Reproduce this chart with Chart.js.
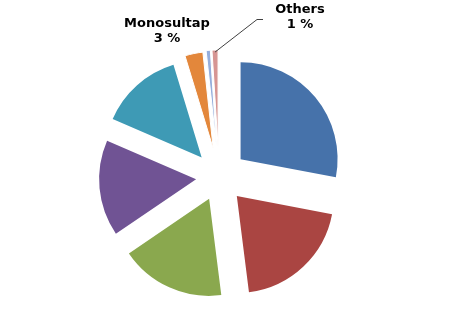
<!DOCTYPE html>
<html lang="en">
<head>
    <meta charset="UTF-8">
    <title>Pie</title>
    <script src="https://cdn.jsdelivr.net/npm/chart.js"></script>
    <style>
        html, body { margin: 0; padding: 0; background: white; }
        #wrap { width: 467px; height: 312px; }
    </style>
</head>
<body>
    <div id="wrap"><canvas id="pieChart"></canvas></div>

    <script>
        // values (percent)
        var categories = ['Slice 1', 'Slice 2', 'Slice 3', 'Slice 4', 'Slice 5', 'Monosultap', 'Slice 7', 'Others'];
        var shares = [28, 20, 17.5, 16, 13.8, 3, 0.7, 1];

        var colors = ['#4672AA', '#AA4542', '#8AA84E', '#705394', '#3E9AB5', '#E3873B', '#95AEDC', '#D69593'];
        var R = 97;
        // explosion in px, chart.js moves arcs by offset / 4
        var explodePx = [28, 26, 24, 23, 26, 29, 30, 30];

        // chart.js grows and narrows thin exploded arcs, undo that so
        // every slice keeps radius R and its real angle
        var keepShape = {
            id: 'keepShape',
            afterDatasetsUpdate: function(chart) {
                chart.getDatasetMeta(0).data.forEach(function(arc) {
                    arc._s0 = arc.startAngle;
                    arc._e0 = arc.endAngle;
                });
            },
            beforeDatasetsDraw: function(chart) {
                chart.getDatasetMeta(0).data.forEach(function(arc) {
                    var off = (arc.options.offset || 0) / 4;
                    var fix = 1 - Math.sin(Math.min(Math.PI, arc.circumference));
                    var ro = off * fix;
                    var d = ro / (Math.PI * R);
                    arc.outerRadius = R - ro;
                    arc.startAngle = arc._s0 - d / 2;
                    arc.endAngle = arc._e0 + d / 2;
                });
            }
        };

        var sliceLabels = {
            id: 'sliceLabels',
            afterDatasetsDraw: function(chart) {
                var ctx = chart.ctx;
                var arcs = chart.getDatasetMeta(0).data;
                ctx.save();
                ctx.fillStyle = '#000';
                ctx.font = 'bold 13px "DejaVu Sans", Verdana, sans-serif';
                ctx.textAlign = 'center';
                ctx.textBaseline = 'alphabetic';

                var m = categories.indexOf('Monosultap');
                ctx.fillText(categories[m], 167, 27);
                ctx.fillText(shares[m] + ' %', 167, 42);

                var o = categories.indexOf('Others');
                ctx.fillText(categories[o], 300, 13);
                ctx.fillText(Math.round(shares[o]) + ' %', 300, 28);

                // leader line from the Others slice
                var a = arcs[o];
                var mid = (a._s0 + a._e0) / 2;
                var dist = explodePx[o] + R - 2;
                var px = a.x + Math.cos(mid) * dist;
                var py = a.y + Math.sin(mid) * dist;
                ctx.strokeStyle = '#404040';
                ctx.lineWidth = 1;
                ctx.beginPath();
                ctx.moveTo(px, py);
                ctx.lineTo(257, 19.5);
                ctx.lineTo(263, 19.5);
                ctx.stroke();
                ctx.restore();
            }
        };

        var ctx = document.getElementById('pieChart').getContext('2d');
        var pieChart = new Chart(ctx, {
            type: 'pie',
            data: {
                labels: categories,
                datasets: [{
                    data: shares,
                    backgroundColor: colors,
                    borderColor: '#ffffff',
                    borderWidth: [0, 0, 0, 0, 0, 1, 1, 1],
                    offset: explodePx.map(function(v) { return v * 4; })
                }]
            },
            options: {
                responsive: true,
                maintainAspectRatio: false,
                animation: false,
                radius: R,
                layout: { padding: { left: 0, right: 29, top: 42, bottom: 0 } },
                plugins: {
                    legend: { display: false },
                    tooltip: { enabled: false }
                }
            },
            plugins: [keepShape, sliceLabels]
        });
    </script>
</body>
</html>
